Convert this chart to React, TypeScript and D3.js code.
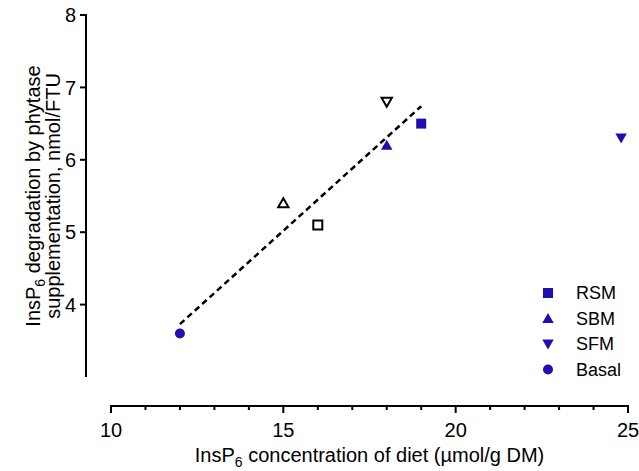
import React, { useEffect, useRef } from "react";
import * as d3 from "d3";

// scatter points: diet InsP6 (µmol/g DM) vs InsP6 degradation (nmol/FTU)
const filledGroups = ["RSM", "SBM", "SFM", "Basal"];
const filledX = [19, 18, 24.8, 12];
const filledY = [6.5, 6.2, 6.3, 3.6];
const openShapes = ["triangle", "square", "down"];
const openX = [15, 16, 18];
const openY = [5.4, 5.1, 6.8];
const fitX = [12, 19];
const fitY = [3.73, 6.74];
const xTicks = [10, 15, 20, 25];
const yTicks = [4, 5, 6, 7, 8];

const BLUE = "#1f0fb0";
const FONT = "'Liberation Sans', Arial, sans-serif";

const shapeOf: Record<string, string> = {
  RSM: "square",
  SBM: "triangle",
  SFM: "down",
  Basal: "circle",
};

function markerPath(shape: string, s: number) {
  if (shape === "square") return `M${-s},${-s}H${s}V${s}H${-s}Z`;
  if (shape === "triangle") return `M0,${-s * 1.1}L${s * 1.15},${s * 0.9}L${-s * 1.15},${s * 0.9}Z`;
  if (shape === "down") return `M0,${s * 1.1}L${s * 1.15},${-s * 0.9}L${-s * 1.15},${-s * 0.9}Z`;
  return `M${s},0A${s},${s} 0 1,1 ${-s},0A${s},${s} 0 1,1 ${s},0Z`;
}

const App: React.FC = () => {
  const svgRef = useRef<SVGSVGElement>(null);
  const width = 639;
  const height = 471;

  useEffect(() => {
    if (!svgRef.current) return;
    const svg = d3.select(svgRef.current);
    svg.selectAll("*").remove();

    const x = d3.scaleLinear().domain([10, 25]).range([111, 628]);
    const y = d3.scaleLinear().domain([3, 8]).range([377, 15]);
    const xAxisY = 406;
    const yAxisX = 86;

    // y axis
    const ya = svg.append("g").attr("transform", `translate(${yAxisX},0)`);
    ya.append("line")
      .attr("y1", y(8) - 1).attr("y2", y(3))
      .attr("stroke", "#000").attr("stroke-width", 2);
    ya.selectAll("line.tick").data(yTicks).join("line")
      .attr("class", "tick")
      .attr("x1", -6).attr("x2", 0)
      .attr("y1", d => y(d)).attr("y2", d => y(d))
      .attr("stroke", "#000").attr("stroke-width", 2);
    ya.selectAll("text").data(yTicks).join("text")
      .attr("x", -10).attr("y", d => y(d))
      .attr("dy", "0.36em")
      .attr("text-anchor", "end")
      .style("font", `20px ${FONT}`)
      .text(d => d);

    // x axis
    const xa = svg.append("g").attr("transform", `translate(0,${xAxisY})`);
    xa.append("line")
      .attr("x1", x(10) - 1).attr("x2", x(25) + 1)
      .attr("stroke", "#000").attr("stroke-width", 2);
    xa.selectAll("line.tick").data(d3.range(10, 26)).join("line")
      .attr("class", "tick")
      .attr("x1", d => x(d)).attr("x2", d => x(d))
      .attr("y1", 0).attr("y2", d => (d % 5 === 0 ? 7 : 4))
      .attr("stroke", "#000").attr("stroke-width", 2);
    xa.selectAll("text").data(xTicks).join("text")
      .attr("x", d => x(d)).attr("y", 31)
      .attr("text-anchor", "middle")
      .style("font", `20px ${FONT}`)
      .text(d => d);

    // axis titles
    const xt = svg.append("text")
      .attr("x", (x(10) + x(25)) / 2).attr("y", 462)
      .attr("text-anchor", "middle")
      .style("font", `20px ${FONT}`);
    xt.append("tspan").text("InsP");
    xt.append("tspan").attr("dy", 5).style("font-size", "14px").text("6");
    xt.append("tspan").attr("dy", -5).text(" concentration of diet (µmol/g DM)");

    const yt = svg.append("text")
      .attr("transform", `translate(40,${(y(8) + y(3)) / 2}) rotate(-90)`)
      .attr("text-anchor", "middle")
      .style("font", `20px ${FONT}`);
    yt.append("tspan").text("InsP");
    yt.append("tspan").attr("dy", 5).style("font-size", "14px").text("6");
    yt.append("tspan").attr("dy", -5).text(" degradation by phytase");
    svg.append("text")
      .attr("transform", `translate(60,${(y(8) + y(3)) / 2}) rotate(-90)`)
      .attr("text-anchor", "middle")
      .style("font", `20px ${FONT}`)
      .text("supplementation, nmol/FTU");

    // regression line
    const line = d3.line<number>().x(d => x(fitX[d])).y(d => y(fitY[d]));
    svg.append("path")
      .attr("d", line([0, 1]))
      .attr("fill", "none")
      .attr("stroke", "#000")
      .attr("stroke-width", 2.5)
      .attr("stroke-dasharray", "6,4");

    // open markers
    svg.selectAll("path.open").data(openShapes).join("path")
      .attr("class", "open")
      .attr("transform", (d, i) => `translate(${x(openX[i])},${y(openY[i])})`)
      .attr("d", d => markerPath(d, 4.5))
      .attr("fill", "#fff")
      .attr("stroke", "#000")
      .attr("stroke-width", 2);

    // filled markers
    svg.selectAll("path.filled").data(filledGroups).join("path")
      .attr("class", "filled")
      .attr("transform", (d, i) => `translate(${x(filledX[i])},${y(filledY[i])})`)
      .attr("d", d => markerPath(shapeOf[d], 5))
      .attr("fill", BLUE);

    // legend
    const legend = svg.append("g").attr("transform", "translate(548,293)");
    const items = legend.selectAll("g").data(filledGroups).join("g")
      .attr("transform", (d, i) => `translate(0,${i * 25.5})`);
    items.append("path")
      .attr("d", d => markerPath(shapeOf[d], 5))
      .attr("fill", BLUE);
    items.append("text")
      .attr("x", 28).attr("dy", "0.36em")
      .style("font", `18px ${FONT}`)
      .text(d => d);
  }, []);

  return (
    <svg
      ref={svgRef}
      width={width}
      height={height}
      style={{ position: "absolute", left: 0, top: 0, background: "#fff" }}
    />
  );
};

export default App;
